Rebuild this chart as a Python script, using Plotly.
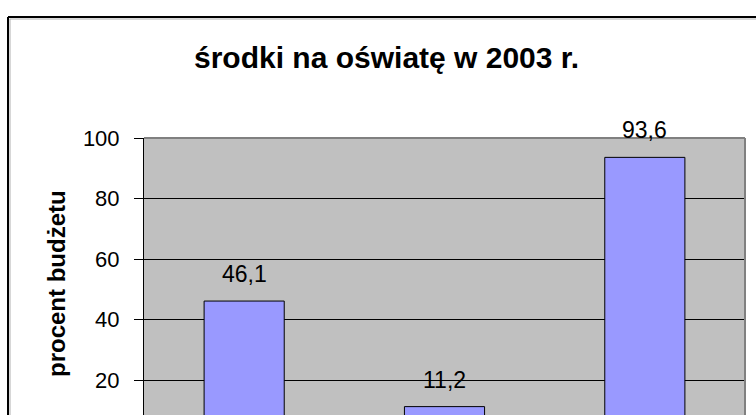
import plotly.graph_objects as go

categories = ["kategoria 1", "kategoria 2", "kategoria 3"]
values = [46.1, 11.2, 93.6]
value_labels = ["46,1", "11,2", "93,6"]
y_ticks = [20, 40, 60, 80, 100]

W, H = 756, 415
L, R, T, B = 144, 11, 138, 0
PW, PH = W - L - R, H - T - B

def px(x):
    return (x - L) / PW

def py(y):
    return (H - B - y) / PH

FONT = "Arial, Liberation Sans, sans-serif"

fig = go.Figure()
fig.add_trace(go.Bar(
    x=categories, y=values,
    marker=dict(color="#9999FF", line=dict(color="black", width=1)),
    hoverinfo="skip",
))

annotations = []
for c, v, t in zip(categories, values, value_labels):
    annotations.append(dict(x=c, y=v, xref="x", yref="y", text=t, showarrow=False,
                            yanchor="bottom", xanchor="center", yshift=12,
                            font=dict(family=FONT, size=23, color="black")))
annotations.append(dict(x=px(386.5), y=py(58), xref="paper", yref="paper",
                        text="<b>środki na oświatę w 2003 r.</b>", showarrow=False,
                        xanchor="center", yanchor="middle",
                        font=dict(family=FONT, size=30, color="black")))
annotations.append(dict(x=px(56), y=py(284), xref="paper", yref="paper",
                        text="<b>procent budżetu</b>", showarrow=False, textangle=-90,
                        xanchor="center", yanchor="middle",
                        font=dict(family=FONT, size=24, color="black")))

shapes = [
    # outer chart frame
    dict(type="line", xref="paper", yref="paper", x0=px(8), y0=py(17), x1=px(900), y1=py(17),
         line=dict(color="black", width=2)),
    dict(type="line", xref="paper", yref="paper", x0=px(8), y0=py(17), x1=px(8), y1=py(600),
         line=dict(color="black", width=2)),
    dict(type="line", xref="paper", yref="paper", x0=px(9.5), y0=py(19), x1=px(900), y1=py(19),
         line=dict(color="#b0b0b0", width=1)),
    dict(type="line", xref="paper", yref="paper", x0=px(10), y0=py(19), x1=px(10), y1=py(600),
         line=dict(color="#b0b0b0", width=1)),
    # plot area border (top, right)
    dict(type="line", xref="paper", yref="paper", x0=0, y0=1, x1=1, y1=1,
         line=dict(color="#808080", width=2)),
    dict(type="line", xref="paper", yref="paper", x0=1, y0=1, x1=1, y1=py(600),
         line=dict(color="#808080", width=2)),
]

zero_px = 440.5
unit_px = 3.025
y_min = (zero_px - (H - B)) / unit_px

fig.update_layout(
    width=W, height=H,
    margin=dict(l=L, r=R, t=T, b=B, pad=0),
    paper_bgcolor="white", plot_bgcolor="#C0C0C0",
    showlegend=False, bargap=0.6,
    annotations=annotations, shapes=shapes,
    font=dict(family=FONT, color="black"),
)
fig.update_xaxes(showticklabels=False, showgrid=False, zeroline=False, showline=False,
                 ticks="", automargin=False, fixedrange=True)
fig.update_yaxes(range=[y_min, 100], tickvals=y_ticks, ticktext=[str(v) for v in y_ticks],
                 showgrid=True, gridcolor="black", gridwidth=1, zeroline=False,
                 showline=True, linecolor="black", linewidth=1,
                 ticks="outside", ticklen=9, tickcolor="black", tickwidth=1,
                 ticklabelstandoff=10,
                 tickfont=dict(family=FONT, size=22, color="black"),
                 automargin=False, fixedrange=True)

fig.write_html("out.html", config={"displayModeBar": False},
               post_script="document.body.style.margin='0';document.body.style.overflow='hidden';")
